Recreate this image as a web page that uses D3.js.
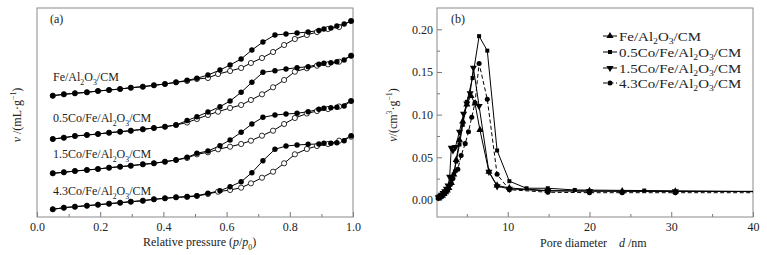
<!DOCTYPE html>
<html>
<head>
<meta charset="utf-8">
<script src="https://cdn.jsdelivr.net/npm/d3@7"></script>
<style>
  body { margin: 0; background: #fff; }
  text { font-family: "Liberation Serif", "Times New Roman", serif; fill: #222; }
</style>
</head>
<body>
<script>
// ---- (a) isotherms: relative pressure grids
var adsP = [0.05,0.085,0.12,0.158,0.193,0.228,0.263,0.297,0.335,0.37,0.405,0.44,0.475,0.506,
            0.541,0.573,0.611,0.646,0.677,0.712,0.747,0.782,0.816,0.854,0.886,0.921,0.956,0.994];
var desP = [0.994,0.972,0.949,0.93,0.908,0.892,0.858,0.823,0.788,0.753,0.715,0.68,0.646,0.611,0.579,
            0.541,0.506,0.475,0.44,0.405,0.37,0.335,0.297,0.263,0.228,0.193,0.158,0.12,0.085,0.05];

// volume adsorbed (curves offset, arbitrary units)
var feAds = [121.3,122.7,123.7,124.7,126,127,128,129.3,130.3,131.7,133,134.7,136,138,139,143,146,149,154,159,165,172,178,182,185,188,190,196];
var feDes = [196,193,191,189,188,186.5,185,184,183,182,175,167,158,152,147,142,138.7,136.7,134.7,133,131.7,130.3,129.3,128,127,126,124.7,123.7,122.7,121.3];
var co05Ads = [78,79.3,81,82,83,84.3,85.3,86.3,87.7,89,90.3,92,94.5,98,102,105.3,109,112,117,122.7,129.7,137,145.3,148.7,151.3,152.7,155.3,161.3];
var co05Des = [161.3,157,155.3,154.3,153.7,152.7,150.3,149.3,148,146.3,144.7,134.7,124.7,116,110.3,105,100.3,96.5,92,90.3,89,87.7,86.3,85.3,84.3,83,82,81,79.3,78];
var co15Ads = [43.7,44.7,46,47,48,49.3,50.3,51.3,52.7,53.7,55.3,57,59,62.7,64.7,67.7,70.3,73,76.3,81.3,86.3,93,99,103.5,106,108,110.5,116];
var co15Des = [116,111,109.7,109.3,108.7,107.7,105.3,103.7,103,102,99.7,93,84.7,77,71.3,66,63.7,59.7,57,55.3,53.7,52.7,51.3,50.3,49.3,48,47,46,44.7,43.7];
var co43Ads = [7.7,9.3,10.3,11.3,12.3,13.3,14.3,15.3,16.3,17.7,18.7,19.7,20,21,23,25.3,27,29.3,33.7,39.3,45.3,53.7,62.7,68,71,73,76.3,80.3];
var co43Des = [81.3,76.3,74.3,73.7,73.7,73,72.7,72,71,67.7,56.3,44.3,35.3,30.3,26.3,23.7,21.3,20.5,19.7,18.7,17.7,16.3,15.3,14.3,13.3,12.3,11.3,10.3,9.3,7.7];

// ---- (b) pore size distributions
var feD   = [1.6,1.8,2.0,2.2,2.4,2.6,2.8,3.1,3.4,3.7,4.1,4.5,5.0,5.5,6.0,6.6,7.7,8.7,10.2,14.9,20.0,24.0,30.5,40];
var feV   = [0.003,0.004,0.005,0.007,0.009,0.011,0.014,0.02,0.03,0.047,0.07,0.092,0.112,0.122,0.113,0.082,0.033,0.017,0.014,0.011,0.0105,0.0103,0.0101,0.01];
var co05D = [1.6,1.8,2.0,2.2,2.4,2.6,2.8,3.1,3.4,3.7,4.1,4.5,5.0,5.7,6.5,7.5,8.7,10.2,12.3,14.9,18.2,26.7,40];
var co05V = [0.004,0.005,0.006,0.008,0.01,0.013,0.016,0.022,0.03,0.045,0.065,0.088,0.115,0.143,0.192,0.175,0.058,0.022,0.0137,0.0137,0.0117,0.011,0.0097];
var co15D = [1.5,1.7,1.9,2.1,2.3,2.5,2.7,2.9,3.1,3.3,3.6,4.1,4.6,5.0,5.4,5.8,6.5,7.7,8.7,10.2,14.9,20.0,30.5,40];
var co15V = [0.003,0.004,0.006,0.008,0.01,0.013,0.017,0.027,0.061,0.058,0.062,0.08,0.101,0.113,0.125,0.155,0.11,0.033,0.016,0.013,0.0105,0.0103,0.01,0.01];
var co43D = [1.5,1.7,1.9,2.1,2.3,2.5,2.7,3.0,3.3,3.6,3.9,4.3,4.8,5.2,5.6,6.0,6.5,7.5,8.7,10.2,14.9,20.0,24.0,30.5,40];
var co43V = [0.002,0.003,0.004,0.006,0.008,0.01,0.013,0.018,0.025,0.034,0.036,0.052,0.066,0.08,0.097,0.114,0.16,0.118,0.03,0.012,0.009,0.0085,0.0085,0.0085,0.0085];

var sampleNames = [
  [["Fe/Al"],["2","sub"],["O"],["3","sub"],["/CM"]],
  [["0.5Co/Fe/Al"],["2","sub"],["O"],["3","sub"],["/CM"]],
  [["1.5Co/Fe/Al"],["2","sub"],["O"],["3","sub"],["/CM"]],
  [["4.3Co/Fe/Al"],["2","sub"],["O"],["3","sub"],["/CM"]]
];
var pTicks = [0, 0.2, 0.4, 0.6, 0.8, 1.0];
var dTicks = [10, 20, 30, 40];
var vTicks = [0, 0.05, 0.10, 0.15, 0.20];

var width = 767, height = 255;
var svg = d3.select("body").append("svg").attr("width", width).attr("height", height);

// rich text helper: parts = [[text, kind]], kind: sub / sup / it
function rich(t, parts, fs) {
  var shift = 0;
  parts.forEach(function(p) {
    var kind = p[1] || "";
    var ts = t.append("tspan").text(p[0]);
    var want = kind == "sub" ? fs * 0.3 : (kind == "sup" ? -fs * 0.38 : 0);
    if (want != shift) { ts.attr("dy", want - shift); shift = want; }
    if (kind == "sub" || kind == "sup") ts.attr("font-size", fs * 0.65);
    if (kind == "it") ts.attr("font-style", "italic");
  });
  return t;
}

function frame(l, t, r, b) {
  svg.append("rect").attr("x", l).attr("y", t).attr("width", r - l).attr("height", b - t)
    .attr("fill", "none").attr("stroke", "#8a8a8a").attr("stroke-width", 1);
}

function styleAxis(g) {
  g.select(".domain").remove();
  g.selectAll(".tick line").attr("stroke", "#777");
  g.selectAll(".tick text").attr("font-family", "Liberation Serif").attr("font-size", 12).attr("fill", "#333");
}

//========== panel (a)
var aL = 37, aR = 353, aT = 8, aB = 217;
var xa = d3.scaleLinear().domain([0, 1]).range([aL, aR]);
var ya = d3.scaleLinear().domain([0, 209]).range([aB, aT]);

svg.append("g").attr("transform", "translate(0," + aB + ")")
  .call(d3.axisBottom(xa).tickValues(pTicks).tickFormat(d3.format(".1f")).tickSizeInner(-5).tickSizeOuter(0).tickPadding(5))
  .call(styleAxis);
svg.append("g").attr("transform", "translate(0," + aB + ")")
  .call(d3.axisBottom(xa).tickValues([0.1, 0.3, 0.5, 0.7, 0.9]).tickFormat("").tickSizeInner(-3).tickSizeOuter(0))
  .call(styleAxis);
frame(aL, aT, aR, aB);

var isotherms = [
  {ads: feAds, des: feDes},
  {ads: co05Ads, des: co05Des},
  {ads: co15Ads, des: co15Des},
  {ads: co43Ads, des: co43Des}
];
var lineA = d3.line().x(function(d) { return xa(d[0]); }).y(function(d) { return ya(d[1]); });

isotherms.forEach(function(s) {
  var ads = adsP.map(function(p, i) { return [p, s.ads[i]]; });
  var des = desP.map(function(p, i) { return [p, s.des[i]]; });
  var g = svg.append("g");
  g.append("path").attr("d", lineA(ads)).attr("fill", "none").attr("stroke", "#000").attr("stroke-width", 1);
  g.append("path").attr("d", lineA(des)).attr("fill", "none").attr("stroke", "#000").attr("stroke-width", 1);
  g.selectAll(".o").data(ads).enter().append("circle")
    .attr("cx", function(d) { return xa(d[0]); }).attr("cy", function(d) { return ya(d[1]); })
    .attr("r", 2.6).attr("fill", "#fff").attr("stroke", "#000").attr("stroke-width", 0.8);
  g.selectAll(".f").data(des).enter().append("circle")
    .attr("cx", function(d) { return xa(d[0]); }).attr("cy", function(d) { return ya(d[1]); })
    .attr("r", 2.7).attr("fill", "#000");
});

var labelY = [81, 122, 158, 195];
sampleNames.forEach(function(n, i) {
  rich(svg.append("text").attr("x", 53).attr("y", labelY[i]).attr("font-size", 12), n, 12);
});

svg.append("text").attr("x", 50).attr("y", 23).attr("font-size", 12).text("(a)");
rich(svg.append("text").attr("x", 143).attr("y", 246).attr("font-size", 12),
  [["Relative pressure ("], ["p", "it"], ["/"], ["p", "it"], ["0", "sub"], [")"]], 12);
rich(svg.append("text").attr("transform", "translate(21,115) rotate(-90)").attr("text-anchor", "middle").attr("font-size", 12),
  [["v", "it"], [" /(mL·g"], ["−1", "sup"], [")"]], 12);

//========== panel (b)
var bL = 437, bR = 753, bT = 8, bB = 217;
var xb = d3.scaleLinear().domain([1.35, 40]).range([bL, bR]);
var yb = d3.scaleLinear().domain([-0.02, 0.225]).range([bB, bT]);

svg.append("g").attr("transform", "translate(0," + bB + ")")
  .call(d3.axisBottom(xb).tickValues(dTicks).tickFormat(d3.format("d")).tickSizeInner(-5).tickSizeOuter(0).tickPadding(5))
  .call(styleAxis);
svg.append("g").attr("transform", "translate(0," + bB + ")")
  .call(d3.axisBottom(xb).tickValues([5, 15, 25, 35]).tickFormat("").tickSizeInner(-3).tickSizeOuter(0))
  .call(styleAxis);
svg.append("g").attr("transform", "translate(" + bL + ",0)")
  .call(d3.axisLeft(yb).tickValues(vTicks).tickFormat(d3.format(".2f")).tickSizeInner(-5).tickSizeOuter(0).tickPadding(4))
  .call(styleAxis);
svg.append("g").attr("transform", "translate(" + bL + ",0)")
  .call(d3.axisLeft(yb).tickValues([0.025, 0.075, 0.125, 0.175])
    .tickFormat("").tickSizeInner(-3).tickSizeOuter(0))
  .call(styleAxis);
frame(bL, bT, bR, bB);

var psd = [
  {d: feD, v: feV, sym: d3.symbolTriangle, size: 22, dash: null},
  {d: co05D, v: co05V, sym: d3.symbolSquare, size: 16, dash: null},
  {d: co15D, v: co15V, sym: "down", size: 22, dash: null},
  {d: co43D, v: co43V, sym: d3.symbolCircle, size: 20, dash: "4,2.5"}
];
var lineB = d3.line().x(function(d) { return xb(d[0]); }).y(function(d) { return yb(d[1]); });

function drawSym(g, s, x, y) {
  var type = s.sym == "down" ? d3.symbolTriangle : s.sym;
  g.append("path").attr("d", d3.symbol().type(type).size(s.size)())
    .attr("transform", "translate(" + x + "," + y + ")" + (s.sym == "down" ? " rotate(180)" : ""))
    .attr("fill", "#000");
}

psd.forEach(function(s) {
  var pts = s.d.map(function(d, i) { return [d, s.v[i]]; });
  var g = svg.append("g");
  g.append("path").attr("d", lineB(pts)).attr("fill", "none").attr("stroke", "#000")
    .attr("stroke-width", 1).attr("stroke-dasharray", s.dash);
  pts.slice(0, -1).forEach(function(p) { drawSym(g, s, xb(p[0]), yb(p[1])); });
});

// legend (text in the original is a little wider)
var legY = [36, 52, 68, 83];
psd.forEach(function(s, i) {
  var g = svg.append("g");
  g.append("line").attr("x1", 603).attr("x2", 617).attr("y1", legY[i]).attr("y2", legY[i])
    .attr("stroke", "#000").attr("stroke-width", 1).attr("stroke-dasharray", s.dash);
  drawSym(g, s, 610, legY[i]);
  rich(g.append("text").attr("transform", "translate(619," + (legY[i] + 4.5) + ") scale(1.15,1)")
    .attr("font-size", 13), sampleNames[i], 13);
});

svg.append("text").attr("x", 451).attr("y", 23).attr("font-size", 12).text("(b)");
rich(svg.append("text").attr("x", 540).attr("y", 247).attr("font-size", 12).attr("xml:space", "preserve"),
  [["Pore diameter    "], ["d", "it"], [" /nm"]], 12);
rich(svg.append("text").attr("transform", "translate(397,115) rotate(-90)").attr("text-anchor", "middle").attr("font-size", 12),
  [["v", "it"], ["/(cm"], ["3", "sup"], ["·g"], ["−1", "sup"], [")"]], 12);
</script>
</body>
</html>
